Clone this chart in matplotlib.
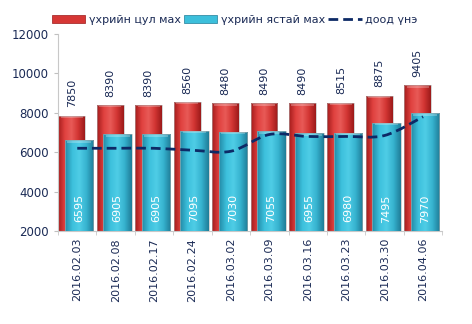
import numpy as np
import matplotlib
matplotlib.use('Agg')
import matplotlib.pyplot as plt
from matplotlib.colors import LinearSegmentedColormap
from matplotlib.patches import Patch, PathPatch
from matplotlib.lines import Line2D
from matplotlib.path import Path

dates = ['2016.02.03', '2016.02.08', '2016.02.17', '2016.02.24', '2016.03.02',
         '2016.03.09', '2016.03.16', '2016.03.23', '2016.03.30', '2016.04.06']
boneless = [7850, 8390, 8390, 8560, 8480, 8490, 8490, 8515, 8875, 9405]
bone_in = [6595, 6905, 6905, 7095, 7030, 7055, 6955, 6980, 7495, 7970]
low_price = [6200, 6200, 6200, 6100, 6050, 6900, 6800, 6800, 6850, 7800]

red_cmap = LinearSegmentedColormap.from_list('r', ['#a51c1c', '#e0413f', '#e85a57', '#d23533', '#9c1a1a'])
cyan_cmap = LinearSegmentedColormap.from_list('c', ['#238aa6', '#3cc0dc', '#4fcde6', '#36b2cf', '#1f7d98'])
grad = np.linspace(0, 1, 64).reshape(1, -1)

fig = plt.figure(figsize=(4.72, 3.24), dpi=100)
ax = fig.add_axes([0.123, 0.287, 0.814, 0.608])

x = np.arange(len(dates))
ymin, ymax = 2000, 12000


def shaded_bars(xs, heights, width, cmap, z):
    bars = ax.bar(xs, np.array(heights) - ymin, width, bottom=ymin, color='none',
                  edgecolor='#b0b0b0', linewidth=0.4, zorder=z + 0.5)
    for b in bars:
        im = ax.imshow(grad, cmap=cmap, aspect='auto', zorder=z,
                       extent=[b.get_x(), b.get_x() + b.get_width(), ymin, ymin + b.get_height()])
        im.set_clip_path(b)
        # lighter cap at the top
        ax.fill_between([b.get_x() + 0.06, b.get_x() + b.get_width() - 0.06],
                        ymin + b.get_height() - 120, ymin + b.get_height() - 20,
                        color='white', alpha=0.25, lw=0, zorder=z + 0.2)
    return bars


shaded_bars(x - 0.14, boneless, 0.70, red_cmap, 2)
shaded_bars(x + 0.05, bone_in, 0.74, cyan_cmap, 3)

# smoothed line through the low prices (Catmull-Rom as cubic Bezier segments)
pts = np.column_stack([x, low_price]).astype(float)
verts = [pts[0]]
codes = [Path.MOVETO]
for i in range(len(pts) - 1):
    p0 = pts[max(i - 1, 0)]
    p1, p2 = pts[i], pts[i + 1]
    p3 = pts[min(i + 2, len(pts) - 1)]
    verts += [p1 + (p2 - p0) / 6, p2 - (p3 - p1) / 6, p2]
    codes += [Path.CURVE4] * 3
ax.add_patch(PathPatch(Path(verts, codes), fill=False, ls=(0, (3.5, 1.8)),
                       edgecolor='#0d2a66', lw=2.0, zorder=5))

for xi, v in zip(x, boneless):
    ax.text(xi - 0.14, v + 420, str(v), rotation=90, ha='center', va='bottom',
            fontsize=8, color='#1a2a55', zorder=6)
for xi, v in zip(x, bone_in):
    ax.text(xi + 0.05, 3150, str(v), rotation=90, ha='center', va='center',
            fontsize=8, color='white', zorder=6)

ax.set_xlim(-0.5, len(dates) - 0.5)
ax.set_ylim(ymin, ymax)
ax.set_yticks([2000, 4000, 6000, 8000, 10000, 12000])
ax.set_xticks(x)
ax.set_xticklabels(dates, rotation=90, fontsize=8, color='#1a2a55')
ax.tick_params(axis='y', labelsize=8.5, colors='#1a2a55', length=3, color='#c0c0c0')
ax.tick_params(axis='x', length=0, pad=5)
for s in ['top', 'right']:
    ax.spines[s].set_visible(False)
for s in ['left', 'bottom']:
    ax.spines[s].set_color('#c8c8c8')
ax.set_xticks(np.arange(-0.5, len(dates)), minor=True)
ax.tick_params(axis='x', which='minor', length=3, color='#c8c8c8')

handles = [Patch(facecolor='#d63735', edgecolor='#9c1a1a', lw=0.5),
           Patch(facecolor='#3cbfdb', edgecolor='#1f7d98', lw=0.5),
           Line2D([], [], color='#0d2a66', ls=(0, (3.5, 1.8)), lw=2)]
fig.legend(handles, ['үхрийн цул мах', 'үхрийн ястай мах', 'доод үнэ'],
           loc='center', bbox_to_anchor=(0.497, 0.938), ncol=3, frameon=False,
           fontsize=8, handlelength=3.0, handleheight=0.7, handletextpad=0.3,
           columnspacing=0.3, borderpad=0.2, labelcolor='#1a2a55')

fig.savefig('out.png', dpi=100)
